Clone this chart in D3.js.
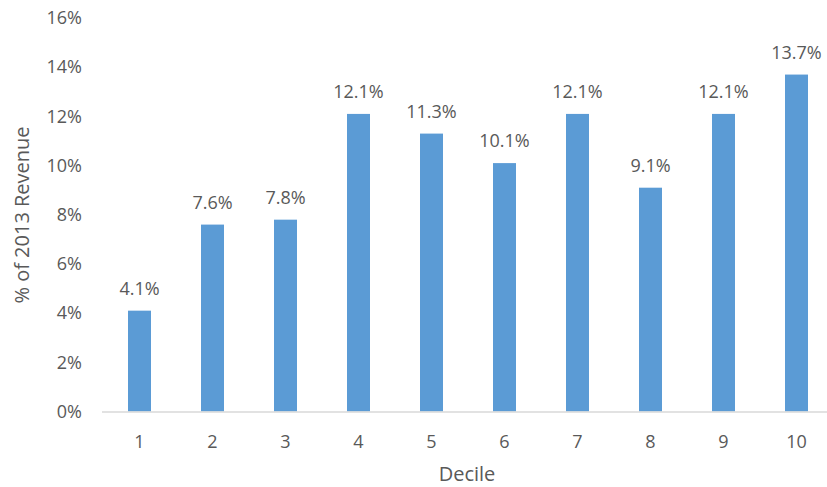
<!DOCTYPE html>
<html>
<head>
<meta charset="utf-8">
<script src="https://cdn.jsdelivr.net/npm/d3@7"></script>
<style>
  html, body { margin: 0; padding: 0; background: #fff; }
  svg text { font-family: "Open Sans", "Liberation Sans", sans-serif; fill: #595959; }
</style>
</head>
<body>
<svg id="chart" width="827" height="487"></svg>
<script>
// Share of 2013 revenue by decile
const deciles = ["1", "2", "3", "4", "5", "6", "7", "8", "9", "10"];
const revenueShare = [4.1, 7.6, 7.8, 12.1, 11.3, 10.1, 12.1, 9.1, 12.1, 13.7];
const yTicks = [0, 2, 4, 6, 8, 10, 12, 14, 16];

const svg = d3.select("#chart");
const plot = { left: 103, right: 833, top: 18, bottom: 411.5 };

const x = d3.scaleBand()
  .domain(deciles)
  .range([plot.left, plot.right])
  .paddingInner(0.685)
  .paddingOuter(0.3425);

const y = d3.scaleLinear()
  .domain([0, 16])
  .range([plot.bottom, plot.top]);

// Y tick labels (no gridlines)
svg.append("g")
  .selectAll("text")
  .data(yTicks)
  .join("text")
  .attr("x", 82)
  .attr("y", d => y(d))
  .attr("dy", "0.35em")
  .attr("text-anchor", "end")
  .style("font-size", "18px")
  .text(d => d + "%");

// Bars
svg.append("g")
  .selectAll("rect")
  .data(revenueShare)
  .join("rect")
  .attr("x", (d, i) => x(deciles[i]))
  .attr("y", d => y(d))
  .attr("width", x.bandwidth())
  .attr("height", d => y(0) - y(d))
  .attr("fill", "#5B9BD5");

// Value labels
svg.append("g")
  .selectAll("text")
  .data(revenueShare)
  .join("text")
  .attr("x", (d, i) => x(deciles[i]) + x.bandwidth() / 2)
  .attr("y", d => y(d) - 16)
  .attr("text-anchor", "middle")
  .style("font-size", "18px")
  .text(d => d.toFixed(1) + "%");

// X axis baseline
svg.append("line")
  .attr("x1", plot.left - 1)
  .attr("x2", 827)
  .attr("y1", plot.bottom + 0.5)
  .attr("y2", plot.bottom + 0.5)
  .attr("stroke", "#D9D9D9")
  .attr("stroke-width", 1.5);

// X category labels
svg.append("g")
  .selectAll("text")
  .data(deciles)
  .join("text")
  .attr("x", d => x(d) + x.bandwidth() / 2)
  .attr("y", 442)
  .attr("dy", "0.35em")
  .attr("text-anchor", "middle")
  .style("font-size", "18px")
  .text(d => d);

// Axis titles
svg.append("text")
  .attr("x", 467)
  .attr("y", 481)
  .attr("text-anchor", "middle")
  .style("font-size", "20px")
  .text("Decile");

svg.append("text")
  .attr("transform", "translate(22,215) rotate(-90)")
  .attr("dy", "0.35em")
  .attr("text-anchor", "middle")
  .style("font-size", "20px")
  .text("% of 2013 Revenue");
</script>
</body>
</html>
